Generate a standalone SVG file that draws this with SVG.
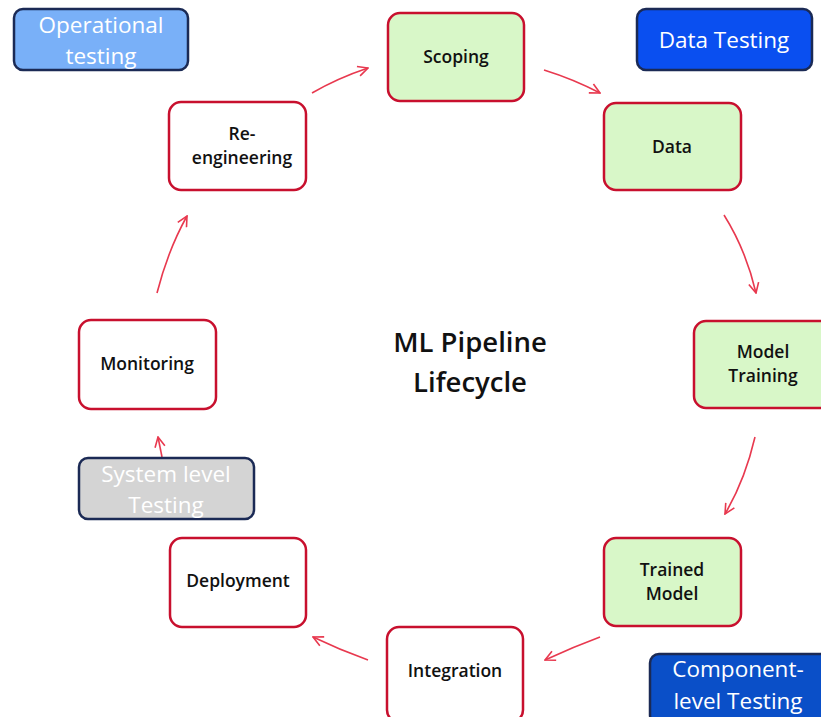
<svg xmlns="http://www.w3.org/2000/svg" width="821" height="717" viewBox="0 0 821 717">
<style>
.stage{fill:#ffffff;stroke:#c8102e;stroke-width:2.5}
.green{fill:#d8f7c8}
.test{stroke:#1b2a55;stroke-width:2.5}
.t{font-family:"Open Sans","Liberation Sans",sans-serif;font-size:17.5px;font-weight:600;fill:#111;text-anchor:middle}
.tw{font-family:"Open Sans","Liberation Sans",sans-serif;font-size:22.5px;fill:#ffffff;text-anchor:middle}
.title{font-family:"Open Sans","Liberation Sans",sans-serif;font-size:27.5px;font-weight:600;fill:#111;text-anchor:middle}
.arr{fill:none;stroke:#e8394f;stroke-width:1.6;marker-end:url(#ah)}
</style>
<defs>
<marker id="ah" viewBox="0 0 12 12" refX="11" refY="6" markerWidth="12" markerHeight="12" markerUnits="userSpaceOnUse" orient="auto">
<path d="M1,1 L11,6 L1,11" fill="none" stroke="#e8394f" stroke-width="1.6"/>
</marker>
</defs>
<rect width="821" height="717" fill="#ffffff"/>
<g id="connectors">
<path class="arr" d="M312,93 Q338,78 368,68"/>
<path class="arr" d="M544,70 Q573,79 600,93"/>
<path class="arr" d="M724,215 Q746,250 756,293"/>
<path class="arr" d="M755,437 Q745,480 725,514"/>
<path class="arr" d="M600,637 Q573,647 545,660"/>
<path class="arr" d="M368,660 Q340,650 313,637"/>
<path class="arr" d="M162,457 L158,437"/>
<path class="arr" d="M157,293 Q168,250 187,216"/>
</g>
<g id="operational-testing">
<rect class="test" x="14" y="9" width="174" height="61" rx="9" fill="#79b0f8"/>
<text class="tw" x="101" y="33">Operational</text>
<text class="tw" x="101" y="64">testing</text>
</g>
<g id="scoping">
<rect class="stage green" x="388" y="13" width="136" height="88" rx="12"/>
<text class="t" x="456" y="63">Scoping</text>
</g>
<g id="data-testing">
<rect class="test" x="637" y="9" width="175" height="61" rx="9" fill="#0a4ff0"/>
<text class="tw" x="724" y="48">Data Testing</text>
</g>
<g id="data">
<rect class="stage green" x="604" y="103" width="137" height="87" rx="12"/>
<text class="t" x="672" y="153">Data</text>
</g>
<g id="re-engineering">
<rect class="stage" x="169" y="102" width="137" height="88" rx="12"/>
<text class="t" x="242" y="140">Re-</text>
<text class="t" x="242" y="164">engineering</text>
</g>
<g id="model-training">
<rect class="stage green" x="694" y="321" width="140" height="87" rx="12"/>
<text class="t" x="763" y="358">Model</text>
<text class="t" x="763" y="382">Training</text>
</g>
<g id="monitoring">
<rect class="stage" x="79" y="320" width="137" height="89" rx="12"/>
<text class="t" x="147" y="370">Monitoring</text>
</g>
<g id="system-level-testing">
<rect class="test" x="79" y="458" width="175" height="61" rx="9" fill="#d4d4d4"/>
<text class="tw" x="166" y="482" fill="#f4f4f4">System level</text>
<text class="tw" x="166" y="513" fill="#f4f4f4">Testing</text>
</g>
<g id="trained-model">
<rect class="stage green" x="604" y="538" width="137" height="88" rx="12"/>
<text class="t" x="672" y="576">Trained</text>
<text class="t" x="672" y="600">Model</text>
</g>
<g id="deployment">
<rect class="stage" x="170" y="538" width="136" height="89" rx="12"/>
<text class="t" x="238" y="587">Deployment</text>
</g>
<g id="integration">
<rect class="stage" x="387" y="627" width="136" height="95" rx="12"/>
<text class="t" x="455" y="677">Integration</text>
</g>
<g id="component-level-testing">
<rect class="test" x="650" y="654" width="180" height="70" rx="9" fill="#0a4fc8"/>
<text class="tw" x="738" y="677">Component-</text>
<text class="tw" x="738" y="709">level Testing</text>
</g>
<g id="title">
<text class="title" x="470" y="352">ML Pipeline</text>
<text class="title" x="470" y="392">Lifecycle</text>
</g>
</svg>
